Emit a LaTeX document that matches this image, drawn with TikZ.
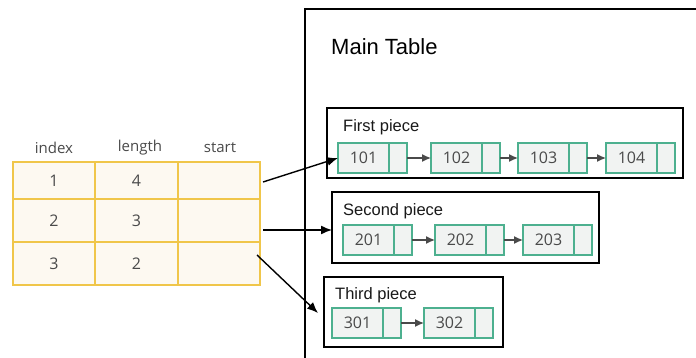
\documentclass[tikz,border=0pt]{standalone}
\usepackage{fontspec}
\setmainfont{Liberation Sans}
\newfontfamily\cellfont{Open Sans}
\usetikzlibrary{arrows.meta,calc}

\definecolor{gold}{HTML}{F0C64A}
\definecolor{cream}{HTML}{FDF9F1}
\definecolor{teal}{HTML}{4DB08F}
\definecolor{cellgrey}{HTML}{F1F3F2}
\definecolor{ink}{HTML}{4A4A4A}

\tikzset{
  tcell/.style={draw=gold, fill=cream, line width=2.2pt, inner sep=0pt, outer sep=0pt,
    font=\cellfont\fontsize{16}{16}\selectfont, text=ink},
  thead/.style={inner sep=0pt, font=\cellfont\fontsize{15}{15}\selectfont, text=ink},
  datacell/.style={draw=teal, fill=cellgrey, line width=1.4pt, inner sep=0pt, outer sep=0pt,
    minimum width=51pt, minimum height=30pt, font=\cellfont\fontsize{16}{16}\selectfont, text=ink},
  ptrcell/.style={draw=teal, fill=cellgrey, line width=1.4pt, inner sep=0pt, outer sep=0pt,
    minimum width=18pt, minimum height=30pt, anchor=west},
  piecebox/.style={draw=black, line width=1.8pt, inner sep=0pt, outer sep=0pt, fill=white},
  piecelabel/.style={anchor=west, inner sep=0pt, font=\fontsize{16.5}{17}\selectfont, text=black!90},
  bigarrow/.style={line width=1.4pt, -{Latex[length=11pt,width=9pt]}},
  linkarrow/.style={draw=ink, line width=1.3pt, -{Latex[length=9pt,width=8pt]}},
}

\begin{document}
\begin{tikzpicture}[x=1pt,y=-1pt]
\useasboundingbox[fill=white] (0,0) rectangle (696,358);

% main table outline (runs off the right and bottom)
\draw[line width=2pt] (305,358) -- (305,9) -- (696,9);
\node[anchor=west, inner sep=0pt, font=\fontsize{22}{22}\selectfont] (maintitle) at (331,47) {Main Table};

% index table
\node[thead] (hidx) at (54,148) {index};
\node[thead] (hlen) at (140,148) {length};
\node[thead] (hsta) at (220,148) {start};

\foreach \r/\ya/\yb/\i/\l in {1/162/199/1/4, 2/199/242/2/3, 3/242/285/3/2} {
  \node[tcell, minimum width=82pt, minimum height={\yb-\ya}, anchor=north west] (c\r1) at (13,\ya) {\i};
  \node[tcell, minimum width=83pt, minimum height={\yb-\ya}, anchor=north west] (c\r2) at (95,\ya) {\l};
  \node[tcell, minimum width=82pt, minimum height={\yb-\ya}, anchor=north west] (c\r3) at (178,\ya) {};
}

% piece boxes
\node[piecebox, minimum width=356pt, minimum height=70pt, anchor=north west] (box1) at (327,108) {};
\node[piecebox, minimum width=267pt, minimum height=71pt, anchor=north west] (box2) at (332,192) {};
\node[piecebox, minimum width=179pt, minimum height=70pt, anchor=north west] (box3) at (324,277) {};

\node[piecelabel] (lab1) at (343,127) {First piece};
\node[piecelabel] (lab2) at (343,211) {Second piece};
\node[piecelabel] (lab3) at (335,295) {Third piece};

% list nodes: data part + pointer part
\foreach \name/\x/\y in {101/338/158, 102/431/158, 103/518/158, 104/606/158,
                          201/343/240, 202/435/240, 203/523/240,
                          301/332/323, 302/424/323} {
  \node[datacell, anchor=west] (n\name) at (\x,\y) {\name};
  \node[ptrcell] (p\name) at (n\name.east) {};
}

% links inside each piece
\draw[linkarrow] (p101.east) -- (n102.west);
\draw[linkarrow] (p102.east) -- (n103.west);
\draw[linkarrow] (p103.east) -- (n104.west);
\draw[linkarrow] (p201.east) -- (n202.west);
\draw[linkarrow] (p202.east) -- (n203.west);
\draw[linkarrow] (p301.east) -- (n302.west);

% start pointers from the index table
\coordinate (s1) at (263,182);
\coordinate (s2) at (263,230);
\coordinate (s3) at (257,255);
\coordinate (e3) at (318,313);
\draw[bigarrow] (s1) -- (n101.west);
\draw[bigarrow] (s2) -- (box2.west |- s2);
\draw[bigarrow] (s3) -- (e3);
\end{tikzpicture}
\end{document}
